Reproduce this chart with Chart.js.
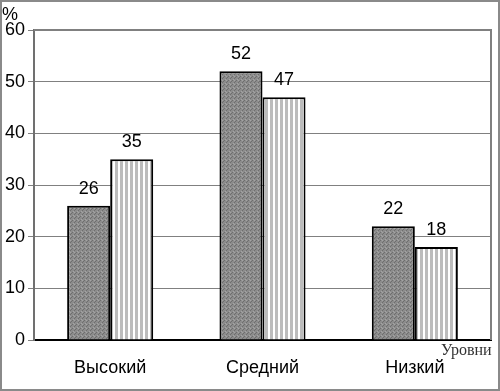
<!DOCTYPE html>
<html><head><meta charset="utf-8">
<script src="https://cdn.jsdelivr.net/npm/chart.js@4"></script>
<style>html,body{margin:0;padding:0;background:#fff}#w{width:500px;height:391px;position:relative}</style>
</head><body><div id="w"><canvas id="c" width="500" height="391"></canvas></div>
<script>
const categories = ["Высокий", "Средний", "Низкий"];
const seriesA = [26, 52, 22];
const seriesB = [35, 47, 18];
const yTicks = [0, 10, 20, 30, 40, 50, 60];
const yAxisTitle = "%";
const xAxisTitle = "Уровни";

function dotPattern(){
  const p = document.createElement('canvas'); p.width = 4; p.height = 4;
  const g = p.getContext('2d');
  g.fillStyle = '#8c8c8c'; g.fillRect(0,0,4,4);
  g.fillStyle = '#6e6e6e'; g.fillRect(0,0,1,1); g.fillRect(2,2,1,1); g.fillRect(3,1,1,1);
  g.fillStyle = '#a4a4a4'; g.fillRect(1,3,1,1); g.fillRect(2,0,1,1);
  return g.createPattern(p,'repeat');
}
function stripePattern(){
  const p = document.createElement('canvas'); p.width = 5; p.height = 4;
  const g = p.getContext('2d');
  g.fillStyle = '#ffffff'; g.fillRect(0,0,5,4);
  g.fillStyle = '#bcbcbc'; g.fillRect(0,0,3,4);
  return g.createPattern(p,'repeat');
}

const deco = {
  id:'deco',
  afterDatasetsDraw(chart){
    const ctx = chart.ctx, a = chart.chartArea;
    ctx.save();
    ctx.font = '18px "Liberation Sans", Arial, sans-serif';
    ctx.fillStyle = '#000'; ctx.textAlign = 'center'; ctx.textBaseline = 'alphabetic';
    chart.data.datasets.forEach((ds,i)=>{
      chart.getDatasetMeta(i).data.forEach((bar,j)=>{
        ctx.fillText(String(ds.data[j]), bar.x, bar.y - 12);
      });
    });
    ctx.strokeStyle = '#808080'; ctx.lineWidth = 2;
    ctx.beginPath();
    ctx.moveTo(a.left, a.top); ctx.lineTo(a.right, a.top); ctx.lineTo(a.right, a.bottom);
    ctx.stroke();
    ctx.textAlign = 'left';
    ctx.fillText(yAxisTitle, 2, 20);
    ctx.font = '16px "Liberation Serif", "Times New Roman", serif';
    ctx.fillStyle = '#333';
    ctx.fillText(xAxisTitle, 441, 355);
    ctx.strokeStyle = '#8a8a8a'; ctx.lineWidth = 2;
    ctx.strokeRect(1,1,498,389);
    ctx.restore();
  }
};

new Chart(document.getElementById('c'), {
  type:'bar',
  data:{
    labels: categories,
    datasets:[
      {data: seriesA, backgroundColor: dotPattern(), borderColor:'#000', borderWidth:2},
      {data: seriesB, backgroundColor: stripePattern(), borderColor:'#000', borderWidth:2}
    ]
  },
  options:{
    responsive:false, animation:false,
    devicePixelRatio:1,
    layout:{padding:{left:0, top:30, right:9, bottom:0}},
    plugins:{legend:{display:false}, tooltip:{enabled:false}},
    datasets:{bar:{barPercentage:1, categoryPercentage:0.565}},
    scales:{
      x:{
        grid:{display:false, drawTicks:false},
        border:{display:true, color:'#000', width:2},
        ticks:{padding:17, color:'#000', font:{family:'"Liberation Sans", Arial, sans-serif', size:18}},
        afterFit(s){ s.height = 51; }
      },
      y:{
        min:0, max:60,
        afterBuildTicks(s){ s.ticks = yTicks.map(v=>({value:v})); },
        grid:{color:'#808080', lineWidth:1, tickLength:6, tickColor:'#808080'},
        border:{display:true, color:'#707070', width:2},
        ticks:{padding:3, color:'#000', font:{family:'"Liberation Sans", Arial, sans-serif', size:18}},
        afterFit(s){ s.width = 34; }
      }
    }
  },
  plugins:[deco]
});
</script>
</body></html>
